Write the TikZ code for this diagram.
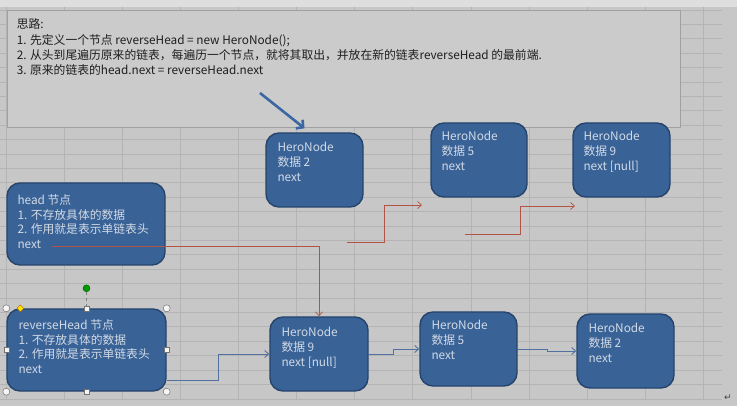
\documentclass[tikz,border=0pt]{standalone}
\usepackage{fontspec}
\setmainfont{Noto Sans CJK SC}
\newfontfamily\symfont{DejaVu Sans}
\usepackage{xcolor}
\usetikzlibrary{arrows.meta, positioning, shapes.geometric}

\definecolor{sheetgray}{RGB}{199,199,199}
\definecolor{stripgray}{RGB}{222,222,222}
\definecolor{gridgray}{RGB}{180,180,180}
\definecolor{notefill}{RGB}{203,203,203}
\definecolor{noteedge}{RGB}{160,160,160}
\definecolor{notetext}{RGB}{30,30,30}
\definecolor{boxfill}{RGB}{57,98,150}
\definecolor{boxedge}{RGB}{38,68,108}
\definecolor{boxtext}{RGB}{210,218,230}
\definecolor{linkred}{RGB}{178,84,68}
\definecolor{linkblue}{RGB}{82,112,160}
\definecolor{arrowblue}{RGB}{58,102,162}

\begin{document}
\begin{tikzpicture}[
    x=1pt, y=-1pt,
    cell/.style = {draw=gridgray, line width=0.6pt},
    nodebox/.style = {rectangle, rounded corners=13pt, draw=boxedge, fill=boxfill, line width=1.4pt, inner sep=0pt},
    nodetext/.style = {anchor=north west, inner sep=0pt, align=left, text=boxtext, font=\fontsize{11.8}{14.6}\selectfont},
    redline/.style = {draw=linkred, line width=0.7pt, -{Straight Barb[length=4pt, width=7pt]}},
    blueline/.style = {draw=linkblue, line width=0.9pt, -{Straight Barb[length=4pt, width=7pt]}},
    bigarrow/.style = {draw=arrowblue, line width=2.6pt, -{Straight Barb[length=5pt, width=11pt]}},
    handle/.style = {circle, draw=black!55, fill=white!92!gray, line width=0.5pt, minimum size=7pt, inner sep=0pt},
    sqhandle/.style = {rectangle, draw=black!55, fill=white!92!gray, line width=0.5pt, minimum size=5pt, inner sep=0pt}
]
    % sheet and grid
    \useasboundingbox (0,0) rectangle (737,406);
    \fill[sheetgray] (0,0) rectangle (737,406);
    \fill[stripgray] (0,0) rectangle (737,7);
    \foreach \k in {0,...,12}
        \draw[cell] (6+58.1*\k,7) -- (6+58.1*\k,399);
    \foreach \k in {0,...,27}
        \draw[cell] (0,10+14.4*\k) -- (722,10+14.4*\k);

    % note box
    \node [rectangle, draw=noteedge, fill=notefill, line width=0.8pt, minimum width=673pt, minimum height=117pt, inner sep=0pt] (note) at (343.5,68.5) {};
    \node [anchor=north west, inner sep=0pt, align=left, text=notetext, font=\fontsize{11.8}{15.3}\selectfont] (notetxt) at ([shift={(10,9)}]note.north west)
        {思路:\\1. 先定义一个节点 reverseHead = new HeroNode();\\2. 从头到尾遍历原来的链表，每遍历一个节点，就将其取出，并放在新的链表reverseHead 的最前端.\\3. 原来的链表的head.next = reverseHead.next};

    % original list
    \node [nodebox, minimum width=158pt, minimum height=82pt] (head) at (86,224) {};
    \node [nodetext] (headtxt) at ([shift={(11,12)}]head.north west) {head 节点\\1. 不存放具体的数据\\2. 作用就是表示单链表头\\next};
    \node [nodebox, minimum width=97pt, minimum height=74pt] (top2) at (314.5,170) {};
    \node [nodetext] (top2txt) at ([shift={(12,10)}]top2.north west) {HeroNode\\数据 2\\next};
    \node [nodebox, minimum width=96pt, minimum height=74pt] (top5) at (479,160) {};
    \node [nodetext] (top5txt) at ([shift={(11,9)}]top5.north west) {HeroNode\\数据 5\\next};
    \node [nodebox, minimum width=97pt, minimum height=74pt] (top9) at (621.5,160) {};
    \node [nodetext] (top9txt) at ([shift={(11,9)}]top9.north west) {HeroNode\\数据 9\\next [null]};

    % reversed list
    \node [nodebox, minimum width=159pt, minimum height=82pt] (rev) at (86.5,350) {};
    \node [nodetext] (revtxt) at ([shift={(12,11)}]rev.north west) {reverseHead 节点\\1. 不存放具体的数据\\2. 作用就是表示单链表头\\next};
    \node [nodebox, minimum width=98pt, minimum height=74pt] (bot9) at (319,354) {};
    \node [nodetext] (bot9txt) at ([shift={(12,11)}]bot9.north west) {HeroNode\\数据 9\\next [null]};
    \node [nodebox, minimum width=97pt, minimum height=74pt] (bot5) at (468.5,349) {};
    \node [nodetext] (bot5txt) at ([shift={(12,9)}]bot5.north west) {HeroNode\\数据 5\\next};
    \node [nodebox, minimum width=97pt, minimum height=74pt] (bot2) at (625.5,351) {};
    \node [nodetext] (bot2txt) at ([shift={(12,10)}]bot2.north west) {HeroNode\\数据 2\\next};

    % selection handles
    \foreach \c [count=\i] in {north west, north east, south west, south east}
        \node [handle, name=hdl\i] at (rev.\c) {};
    \foreach \c [count=\i] in {north, south, west, east}
        \node [sqhandle, name=sqh\i] at (rev.\c) {};
    \node [circle, fill=green!60!black, draw=green!35!black, minimum size=7pt, inner sep=0pt] (rot) at ([yshift=20pt]rev.north) {};
    \draw [black!50, dashed, line width=0.6pt] (rot) -- (sqh1);
    \node [diamond, fill=yellow!85!orange, draw=orange!70!black, line width=0.3pt, minimum size=7pt, inner sep=0pt] (adj) at ([xshift=14pt]rev.north west) {};

    % red links
    \coordinate (headnext) at (52,246);
    \coordinate (r2from) at (347,242);
    \coordinate (r2to) at (422,205);
    \coordinate (r3from) at (465,234);
    \coordinate (r3to) at (575,206);
    \draw [redline] (headnext) -| (bot9.north);
    \draw [redline] (r2from) -- ++(37,0) |- (r2to);
    \draw [redline] (r3from) -- ++(55,0) |- (r3to);

    % blue links
    \draw [blueline] ([yshift=-30pt]rev.east) -- ++(52,0) |- (bot9.west);
    \draw [blueline] (bot9.east) -- ++(25,0) |- (bot5.west);
    \draw [blueline] (bot5.east) -- ++(30,0) |- (bot2.west);

    % pointer arrow
    \coordinate (arrowtail) at (260,93);
    \draw [bigarrow] (arrowtail) -- ([shift={(-10,-4)}]top2.north);

    \node [font=\symfont\fontsize{9}{9}\selectfont, text=black!75, inner sep=0pt] (para) at (728,398) {↵};
\end{tikzpicture}
\end{document}
